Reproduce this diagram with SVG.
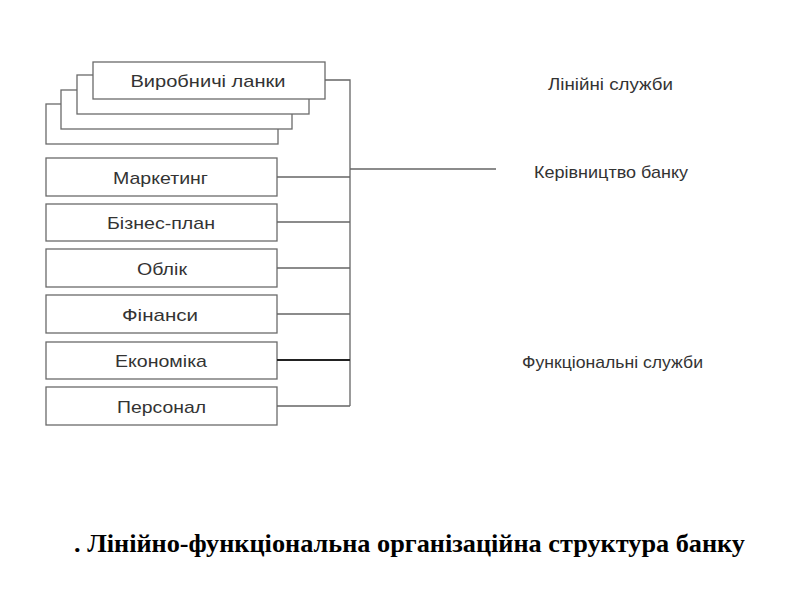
<svg xmlns="http://www.w3.org/2000/svg" width="800" height="600" viewBox="0 0 800 600">
<style>
.box{fill:#fff;stroke:#6a6a6a;stroke-width:1.3}
.lbl{font-family:"Liberation Sans",Arial,sans-serif;font-size:17px;fill:#333;text-anchor:middle;dominant-baseline:central}
.con{fill:none;stroke:#666;stroke-width:1.3}
.title{font-family:"Liberation Serif","Times New Roman",serif;font-weight:bold;font-size:25px;fill:#000}
</style>
<rect width="800" height="600" fill="#fff"/>
<g id="vyrobnychi">
<rect class="box" x="46" y="104" width="232" height="40"/>
<rect class="box" x="61" y="90" width="231" height="39"/>
<rect class="box" x="77" y="75" width="232" height="39"/>
<rect class="box" x="93" y="62" width="232" height="37"/>
<text class="lbl" x="208" y="81" textLength="155" lengthAdjust="spacingAndGlyphs">Виробничі ланки</text>
</g>
<g id="marketing"><rect class="box" x="46" y="158" width="231" height="38"/><text class="lbl" x="160.5" y="178" textLength="95" lengthAdjust="spacingAndGlyphs">Маркетинг</text></g>
<g id="business"><rect class="box" x="46" y="204" width="231" height="37"/><text class="lbl" x="161" y="223" textLength="108" lengthAdjust="spacingAndGlyphs">Бізнес-план</text></g>
<g id="oblik"><rect class="box" x="46" y="249" width="231" height="38"/><text class="lbl" x="162" y="269" textLength="50" lengthAdjust="spacingAndGlyphs">Облік</text></g>
<g id="finansy"><rect class="box" x="46" y="295" width="231" height="38"/><text class="lbl" x="160" y="315" textLength="76" lengthAdjust="spacingAndGlyphs">Фінанси</text></g>
<g id="ekonomika"><rect class="box" x="46" y="342" width="231" height="37"/><text class="lbl" x="161" y="361" textLength="92" lengthAdjust="spacingAndGlyphs">Економіка</text></g>
<g id="personal"><rect class="box" x="46" y="387" width="231" height="38"/><text class="lbl" x="161.5" y="407" textLength="89" lengthAdjust="spacingAndGlyphs">Персонал</text></g>
<g id="connectors">
<path class="con" d="M325 80H350V406M277 177H350M277 222H350M277 268H350M277 314H350M277 406H350M350 169H496"/>
<path class="con" d="M277 360H350" style="stroke:#222;stroke-width:2"/>
</g>
<g id="labels">
<text class="lbl" x="610.5" y="84" textLength="125" lengthAdjust="spacingAndGlyphs">Лінійні служби</text>
<text class="lbl" x="611" y="172" textLength="154" lengthAdjust="spacingAndGlyphs">Керівництво банку</text>
<text class="lbl" x="612.5" y="362" textLength="181" lengthAdjust="spacingAndGlyphs">Функціональні служби</text>
</g>
<text class="title" x="74" y="552" textLength="671" lengthAdjust="spacingAndGlyphs">. Лінійно-функціональна організаційна структура банку</text>
</svg>
